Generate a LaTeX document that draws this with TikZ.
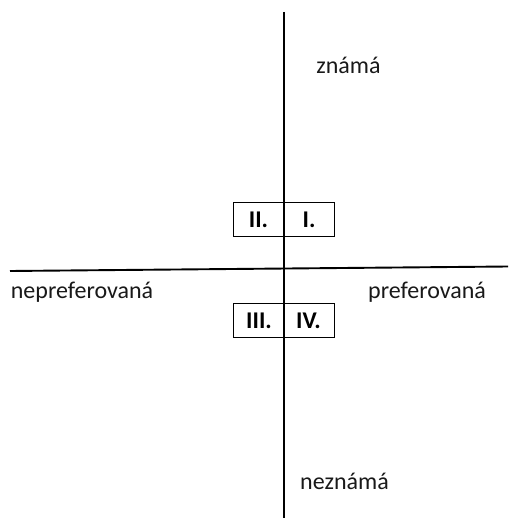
\documentclass[tikz,border=0pt]{standalone}
\usepackage{fontspec}
\setmainfont{Carlito}
\begin{document}
\begin{tikzpicture}[x=1pt,y=-1pt,
  axis/.style={line width=1.9pt,black},
  lbl/.style={font=\fontsize{24}{28}\selectfont,text=black!90,inner sep=0pt},
  quad/.style={font=\fontsize{24}{28}\selectfont\bfseries,text=black,inner sep=0pt},
  qbox/.style={draw,line width=1.9pt}]
\useasboundingbox (0,0) rectangle (508,518);
\coordinate (vt) at (284,12);
\coordinate (vb) at (284,518);
\coordinate (hl) at (10,271);
\coordinate (hr) at (508,266.5);
\draw[qbox] (233.5,202.5) rectangle (334.5,236.5);
\draw[qbox] (233.5,303.5) rectangle (334.5,337.5);
\draw[axis] (vt) -- (vb);
\draw[axis] (hl) -- (hr);
\node[quad] (q2) at (258.5,220) {II.};
\node[quad] (q1) at (309,220) {I.};
\node[quad] (q3) at (259,321) {III.};
\node[quad] (q4) at (308.5,321) {IV.};
\node[lbl] (zn) at (348.5,65) {známá};
\node[lbl] (nz) at (344.5,481) {neznámá};
\node[lbl] (np) at (82,292) {nepreferovaná};
\node[lbl] (pr) at (427,292) {preferovaná};
\end{tikzpicture}
\end{document}
